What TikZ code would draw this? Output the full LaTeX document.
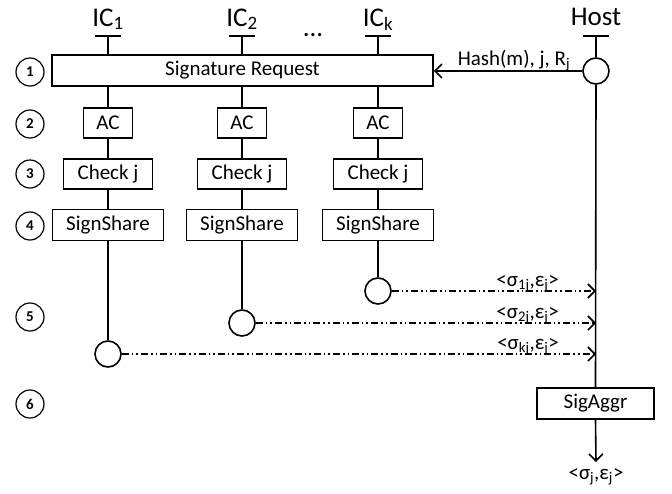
\documentclass[tikz,border=0pt]{standalone}
\usepackage{fontspec}
\setmainfont{Carlito}
\usetikzlibrary{arrows.meta}

\begin{document}
\begin{tikzpicture}[x=1pt, y=-1pt, line width=1.6pt,
  boite/.style={draw, fill=white, minimum height=31pt, inner sep=0pt, font=\fontsize{21}{23}\selectfont},
  etape/.style={draw, circle, minimum size=28pt, inner sep=0pt, line width=1.2pt, font=\bfseries\fontsize{15}{16}\selectfont},
  rond/.style={draw, circle, fill=white, minimum size=26pt, inner sep=0pt},
  titre/.style={font=\fontsize{27}{29}\selectfont, anchor=base},
  etiq/.style={font=\fontsize{21}{23}\selectfont},
  fleche/.style={-{Straight Barb[length=7pt, width=14pt]}},
  tiret/.style={dash pattern=on 7pt off 3pt on 1.6pt off 3pt on 1.6pt off 3pt}]

  % Cadre
  \useasboundingbox (0,0) rectangle (672,493);

  % Etapes
  \foreach \n/\y in {1/72, 2/124, 3/174, 4/226, 5/317, 6/404}
    \node[etape] (e\n) at (30,\y) {\n};

  % Cartes IC : titre, trait, rond de sortie
  \foreach \nom/\x/\ind/\y in {a/108/1/354, b/242/2/323, c/378/k/291}{
    \node[titre] (ic\nom) at (\x,26) {IC\textsubscript{\ind}};
    \coordinate (t\nom) at (\x,36);
    \draw ([xshift=-13pt]t\nom) -- ([xshift=13pt]t\nom);
    \node[rond] (r\nom) at (\x,\y) {};
    \draw (t\nom) -- (r\nom.north);
  }
  \node[titre] (pts) at (313,36) {...};

  % Boites des cartes
  \node[boite, minimum width=381pt] (req) at (242.5,70.5) {Signature Request};
  \foreach \nom/\x in {a/108, b/242, c/378}{
    \node[boite, minimum width=49pt, minimum height=30pt] (ac\nom) at (\x,123) {AC};
    \node[boite, minimum width=89pt, minimum height=30pt] (chk\nom) at (\x,174) {Check j};
    \node[boite, minimum width=111pt] (sig\nom) at (\x,225) {SignShare};
  }

  % Hote
  \node[titre] (host) at (596,25) {Host};
  \coordinate (th) at (596,36);
  \draw ([xshift=-13pt]th) -- ([xshift=13pt]th);
  \node[rond] (hc) at (596,71) {};
  \node[boite, minimum width=117pt] (agg) at (595.5,403.5) {SigAggr};
  \coordinate (sortie) at (596,462);
  \draw (th) -- (hc.north);
  \draw (hc.south) -- (agg.north);
  \draw[fleche] (agg.south) -- (sortie);
  \node[etiq] (res) at (596,477) {<σ\textsubscript{j},ε\textsubscript{j}>};

  % Requete
  \draw[fleche] (hc.west) -- (req.east |- hc.west)
    node[etiq, pos=0, anchor=base east, xshift=-8pt, yshift=6pt] {Hash(m), j, R\textsubscript{j}};

  % Parts de signature
  \foreach \nom/\ind in {c/1j, b/2j, a/kj}
    \draw[fleche, tiret] (r\nom.east) -- (r\nom.east -| hc)
      node[etiq, pos=1, anchor=base east, xshift=-33pt, yshift=5pt] {<σ\textsubscript{\ind},ε\textsubscript{j}>};

\end{tikzpicture}
\end{document}
